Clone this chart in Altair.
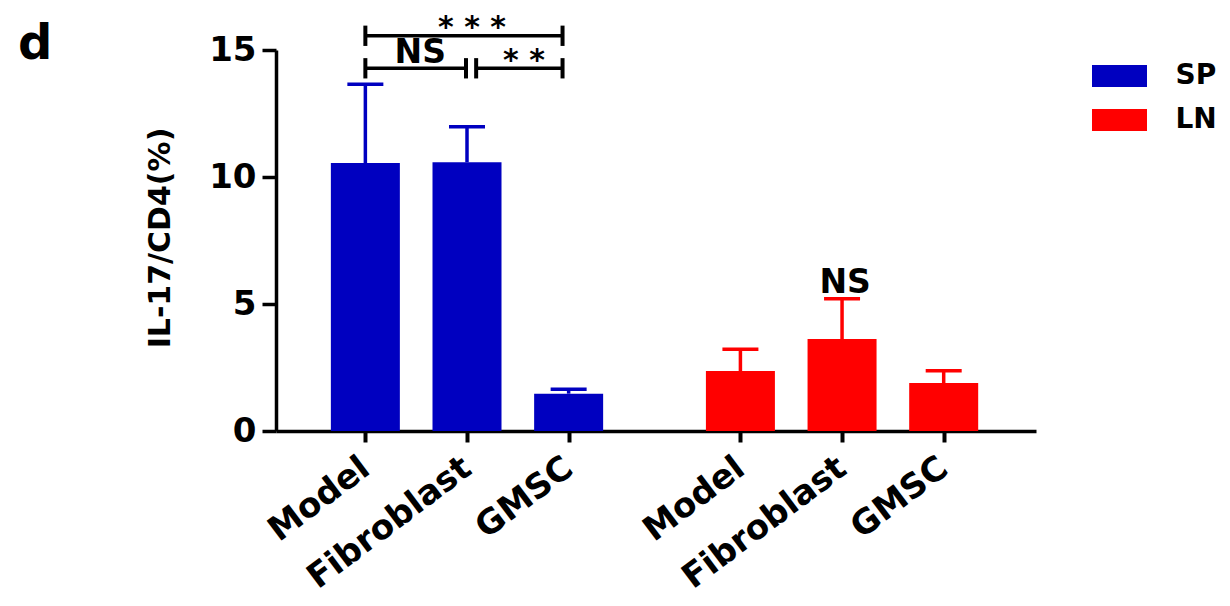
import altair as alt
import pandas as pd

# ---- data ----
groups = ["SP", "LN"]
categories = ["Model", "Fibroblast", "GMSC"]
sp_mean = [10.55, 10.58, 1.47]
sp_err = [3.10, 1.40, 0.17]
ln_mean = [2.36, 3.62, 1.89]
ln_err = [0.86, 1.59, 0.48]
colors = ["#0000C0", "#FF0000"]
panel_label = "d"

# significance annotations (in bar-slot units / y units, text baseline)
sig_text = ["* * *", "NS", "* *", "NS"]
sig_text_x = [1.05, 0.54, 1.56, 4.72]
sig_text_y = [15.50, 14.49, 14.23, 5.44]
sig_size = [30, 33, 30, 33]
bracket_x1 = [0.0, 0.0, 1.09]
bracket_x2 = [1.94, 0.99, 1.94]
bracket_level = [15.56, 14.28, 14.28]
bracket_half = 0.4

GROUP_STEP = 3.69  # slot distance between first bars of the two groups
FONT = "DejaVu Sans"

means = [sp_mean, ln_mean]
errs = [sp_err, ln_err]
rows = []
for gi, g in enumerate(groups):
    for ci, c in enumerate(categories):
        rows.append({
            "group": g,
            "category": c,
            "pos": gi * GROUP_STEP + ci,
            "mean": means[gi][ci],
            "top": means[gi][ci] + errs[gi][ci],
        })
df = pd.DataFrame(rows)

brackets = pd.DataFrame({"x1": bracket_x1, "x2": bracket_x2, "level": bracket_level})
ends = []
for a, b, lv in zip(bracket_x1, bracket_x2, bracket_level):
    for xe in (a, b):
        ends.append({"xe": xe, "lo": lv - bracket_half, "hi": lv + bracket_half})
ends = pd.DataFrame(ends)
sig = pd.DataFrame({"t": sig_text, "x": sig_text_x, "y": sig_text_y, "s": sig_size})

tick_vals = list(df["pos"])
label_arr = "[" + ",".join("'%s'" % c for c in df["category"]) + "]"
val_arr = "[" + ",".join(repr(v) for v in tick_vals) + "]"
label_expr = f"{label_arr}[indexof({val_arr}, datum.value)]"

xscale = alt.Scale(domain=[-0.83, 6.549], nice=False, zero=False)
yscale = alt.Scale(domain=[0, 15], nice=False)
cscale = alt.Scale(domain=groups, range=colors)

x_axis = alt.Axis(
    values=tick_vals, labelExpr=label_expr, title=None, grid=False,
    labelAngle=-37, labelAlign="right", labelBaseline="middle",
    labelFont=FONT, labelFontWeight="bold", labelFontSize=34,
    labelPadding=22, tickSize=11, tickWidth=4, domainWidth=3.5,
    labelOverlap=False, labelBound=False, labelFlush=False, labelLimit=0,
    domainColor="black", tickColor="black", labelColor="black",
)
y_axis = alt.Axis(
    values=[0, 5, 10, 15], title="IL-17/CD4(%)", grid=False,
    labelFont=FONT, labelFontWeight="bold", labelFontSize=34,
    labelPadding=6, tickSize=14, tickWidth=3.5, domainWidth=3.5,
    labelOverlap=False,
    domainColor="black", tickColor="black", labelColor="black",
    titleFont=FONT, titleFontWeight="bold", titleFontSize=30,
    titleColor="black", titleX=-116, titleY=187.5, titleAngle=-90,
    titleAlign="center", titleBaseline="middle",
)

legend = alt.Legend(
    title=None, orient="none", legendX=829.5, legendY=12,
    symbolType="M-2.5,-1H2.5V1H-2.5Z", symbolSize=484,
    symbolStrokeWidth=0, symbolOpacity=1,
    labelFont=FONT, labelFontWeight="bold", labelFontSize=28,
    labelColor="black", labelOffset=42, rowPadding=16,
)

base = alt.Chart(df)
bars = base.mark_bar(size=69).encode(
    x=alt.X("pos:Q", scale=xscale, axis=x_axis),
    y=alt.Y("mean:Q", scale=yscale, axis=y_axis),
    color=alt.Color("group:N", scale=cscale, legend=legend, sort=groups),
)
err = base.mark_rule(strokeWidth=3.5, opacity=1).encode(
    x="pos:Q", y="mean:Q", y2="top:Q",
    color=alt.Color("group:N", scale=cscale, legend=None),
)
caps = base.mark_tick(orient="horizontal", size=36, thickness=3.5, opacity=1).encode(
    x="pos:Q", y="top:Q",
    color=alt.Color("group:N", scale=cscale, legend=None),
)
br = alt.Chart(brackets).mark_rule(strokeWidth=3.5, color="black").encode(
    x="x1:Q", x2="x2:Q", y="level:Q"
)
br_ends = alt.Chart(ends).mark_rule(strokeWidth=4, color="black").encode(
    x="xe:Q", y="lo:Q", y2="hi:Q"
)
sig_marks = alt.Chart(sig).mark_text(
    font=FONT, fontWeight="bold", color="black", baseline="alphabetic"
).encode(
    x="x:Q", y="y:Q", text="t:N",
    size=alt.Size("s:Q", scale=None, legend=None),
)
label_d = alt.Chart(pd.DataFrame({"t": [panel_label]})).mark_text(
    font=FONT, fontWeight="bold", fontSize=48, color="black",
    align="left", baseline="alphabetic",
).encode(x=alt.value(-258), y=alt.value(9), text="t:N")

chart = alt.layer(bars, err, caps, br, br_ends, sig_marks, label_d).properties(
    width=760, height=381,
    autosize=alt.AutoSizeParams(type="none"),
    padding={"left": 268, "top": 42, "right": 186, "bottom": 165},
).configure_view(stroke=None)

chart.save("out.html", embed_options={"renderer": "svg", "actions": False})
